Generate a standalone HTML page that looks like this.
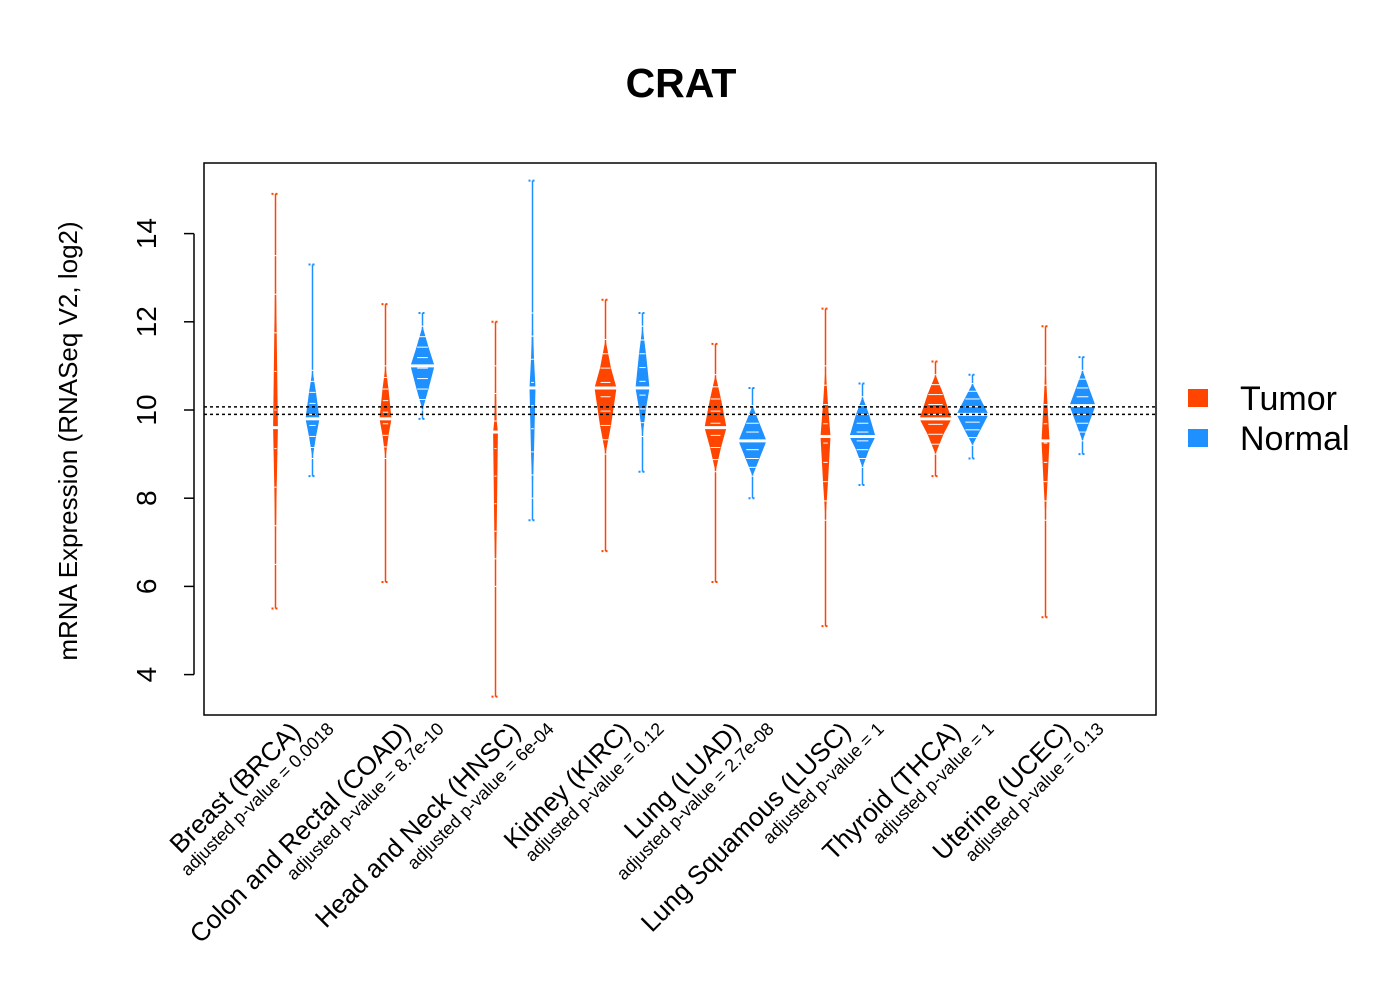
<!DOCTYPE html>
<html><head><meta charset="utf-8">
<style>
html,body{margin:0;padding:0;background:#fff;}
svg{display:block;font-family:"Liberation Sans",Arial,sans-serif;}
</style></head>
<body>
<svg id="chart" width="1400" height="1000" viewBox="0 0 1400 1000" xmlns="http://www.w3.org/2000/svg">
<text x="681" y="97" text-anchor="middle" font-size="41" font-weight="bold">CRAT</text>
<rect x="204" y="163" width="952" height="552" fill="none" stroke="#000" stroke-width="1.5"/>
<text transform="translate(77,441) rotate(-90)" text-anchor="middle" font-size="26">mRNA Expression (RNASeq V2, log2)</text>
<g id="yaxis"></g>
<g id="beans"></g>
<g id="refs"></g>
<g id="xlabels"></g>
<g>
<g>
<rect x="1188" y="389" width="20" height="18" fill="#FF4500"/>
<text x="1240" y="410" font-size="34">Tumor</text></g>
<g>
<rect x="1188" y="429" width="20" height="18" fill="#1E90FF"/>
<text x="1240" y="450" font-size="34">Normal</text></g>
</g>
</svg>
<script>
const categories = ["Breast (BRCA)","Colon and Rectal (COAD)","Head and Neck (HNSC)","Kidney (KIRC)","Lung (LUAD)","Lung Squamous (LUSC)","Thyroid (THCA)","Uterine (UCEC)"];
const pvalues = ["0.0018","8.7e-10","6e-04","0.12","2.7e-08","1","1","0.13"];
const yTicks = [4,6,8,10,12,14];
const refLines = [10.07,9.9];
// tumor series
const tumorMin = [5.5,6.1,3.5,6.8,6.1,5.1,8.5,5.3];
const tumorMax = [14.9,12.4,12.0,12.5,11.5,12.3,11.1,11.9];
const tumorMed = [9.6,9.8,9.5,10.5,9.6,9.4,9.8,9.3];
const tumorBodyLo = [6.5,8.9,6.0,9.0,8.6,7.5,9.0,7.5];
const tumorBodyHi = [13.5,11.0,11.0,11.6,10.8,11.0,10.8,11.0];
const tumorWidth = [0.12,0.3,0.12,0.55,0.55,0.25,0.8,0.2];
// normal series
const normalMin = [8.5,9.8,7.5,8.6,8.0,8.3,8.9,9.0];
const normalMax = [13.3,12.2,15.2,12.2,10.5,10.6,10.8,11.2];
const normalMed = [9.8,11.0,10.5,10.5,9.3,9.4,9.9,10.1];
const normalBodyLo = [8.9,10.0,8.0,9.4,8.5,8.7,9.2,9.3];
const normalBodyHi = [10.9,11.9,12.2,11.9,10.1,10.3,10.6,10.9];
const normalWidth = [0.35,0.6,0.15,0.35,0.7,0.65,0.8,0.65];

const NS="http://www.w3.org/2000/svg";
const yScale = v => 410 - (v-10)*44.1;
const xCenter = i => 294 + 110*i;
const wScale = w => w*20;
function mk(tag, attrs, parent){const e=document.createElementNS(NS,tag);for(const k in attrs)e.setAttribute(k,attrs[k]);parent.appendChild(e);return e;}

const ya=document.getElementById('yaxis');
mk('line',{x1:194,x2:194,y1:yScale(yTicks[yTicks.length-1]),y2:yScale(yTicks[0]),stroke:'#000','stroke-width':1.5},ya);
yTicks.forEach(t=>{
  const g=mk('g',{},ya);
  
  
  mk('line',{x1:184,x2:194,y1:yScale(t),y2:yScale(t),stroke:'#000','stroke-width':1.5},g);
  const tx=mk('text',{transform:`translate(156,${yScale(t)}) rotate(-90)`,'text-anchor':'middle','font-size':28},g);
  tx.textContent=t;
});

const bg=document.getElementById('beans');
function bean(cx,lo,hi,med,blo,bhi,w,col,name){
  const g=mk('g',{},bg);
  
  
  const hw=wScale(w);
  mk('line',{x1:cx,x2:cx,y1:yScale(hi),y2:yScale(lo),stroke:col,'stroke-width':1.5},g);
  const m=(blo+bhi)/2;
  const pts=[[cx,yScale(bhi)],[cx+hw*0.5,yScale(m+(bhi-m)*0.5)],[cx+hw,yScale(med)],[cx+hw*0.5,yScale(m-(m-blo)*0.5)],[cx,yScale(blo)],[cx-hw*0.5,yScale(m-(m-blo)*0.5)],[cx-hw,yScale(med)],[cx-hw*0.5,yScale(m+(bhi-m)*0.5)]];
  mk('polygon',{points:pts.map(p=>p.join(',')).join(' '),fill:col},g);
  const n=8;
  for(let k=0;k<=n;k++){const v=blo+(bhi-blo)*k/n;mk('line',{x1:cx-hw*0.45,x2:cx+hw*0.45,y1:yScale(v),y2:yScale(v),stroke:'#fff','stroke-width':1},g);}
  [lo,hi].forEach(v=>mk('line',{x1:cx-4,x2:cx+4,y1:yScale(v),y2:yScale(v),stroke:col,'stroke-width':2,'stroke-dasharray':'2,2'},g));
  mk('line',{x1:cx-Math.max(hw*1.1,8),x2:cx+Math.max(hw*1.1,8),y1:yScale(med),y2:yScale(med),stroke:'#fff','stroke-width':3},g);
}
categories.forEach((c,i)=>{
  bean(xCenter(i)-18.5,tumorMin[i],tumorMax[i],tumorMed[i],tumorBodyLo[i],tumorBodyHi[i],tumorWidth[i],'#FF4500','bean-tumor-'+i);
  bean(xCenter(i)+18.5,normalMin[i],normalMax[i],normalMed[i],normalBodyLo[i],normalBodyHi[i],normalWidth[i],'#1E90FF','bean-normal-'+i);
});

const rg=document.getElementById('refs');
refLines.forEach((v,i)=>{
  const l=mk('line',{x1:204,x2:1156,y1:yScale(v),y2:yScale(v),stroke:'#000','stroke-width':1.5,'stroke-dasharray':'3,3'},rg);
  
  
});

const xg=document.getElementById('xlabels');
categories.forEach((c,i)=>{
  const cx=xCenter(i);
  const t1=mk('text',{transform:`translate(${cx+8},733) rotate(-45)`,'text-anchor':'end','font-size':26},xg);
  t1.textContent=c;
  
  
  const t2=mk('text',{transform:`translate(${cx+41},730) rotate(-45)`,'text-anchor':'end','font-size':18},xg);
  t2.textContent='adjusted p-value = '+pvalues[i];
  
  
});
</script>
</body></html>
